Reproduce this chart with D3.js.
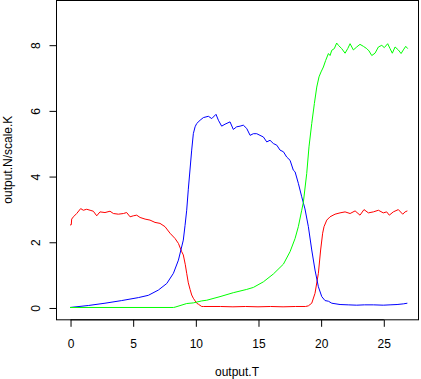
<!DOCTYPE html>
<html>
<head>
<meta charset="utf-8">
<script src="https://cdn.jsdelivr.net/npm/d3@7"></script>
<style>
  body { margin: 0; background: #fff; }
  svg text { font-family: "Liberation Sans", Arial, sans-serif; font-size: 12px; fill: #000; }
</style>
</head>
<body>
<div id="vizContainer"></div>
<script>
// values (time, N/K) for each series
var redT = [0, 0.1, 0.13, 0.27, 0.53, 0.85, 1.06, 1.33, 1.6, 1.86, 2.13, 2.39, 2.79, 3.19, 3.46, 3.86, 4.26, 4.52, 4.79, 5.05, 5.32, 5.59, 5.99, 6.38, 6.78, 7.18, 7.58, 7.98, 8.38, 8.65, 8.91, 9.04, 9.2, 9.31, 9.44, 9.58, 9.71, 9.84, 10.11, 10.24, 10.51, 10.64, 12, 13, 14, 15, 16, 17, 18, 18.8, 19.02, 19.29, 19.55, 19.82, 20.0, 20.16, 20.27, 20.49, 20.75, 21.15, 21.55, 21.95, 22.35, 22.75, 23.14, 23.46, 23.81, 24.21, 24.61, 25.0, 25.27, 25.48, 25.8, 26.2, 26.55, 26.74, 26.92];
var redN = [2.51, 2.52, 2.69, 2.76, 2.86, 3.01, 2.96, 2.99, 2.96, 2.93, 2.79, 2.91, 2.89, 2.93, 2.86, 2.84, 2.86, 2.89, 2.76, 2.79, 2.81, 2.74, 2.69, 2.66, 2.59, 2.56, 2.46, 2.26, 2.10, 1.95, 1.70, 1.60, 1.30, 1.04, 0.75, 0.55, 0.38, 0.28, 0.13, 0.10, 0.03, 0.03, 0.03, 0.02, 0.03, 0.02, 0.03, 0.02, 0.03, 0.03, 0.05, 0.13, 0.43, 1.04, 1.75, 2.26, 2.46, 2.66, 2.76, 2.84, 2.88, 2.91, 2.86, 2.94, 2.81, 2.98, 2.88, 2.91, 2.96, 2.88, 2.91, 2.81, 2.91, 2.98, 2.84, 2.91, 2.94];

var blueT = [0, 1.46, 2.79, 4.12, 5.45, 6.25, 7.05, 7.72, 8.25, 8.65, 9.04, 9.18, 9.31, 9.44, 9.71, 9.84, 9.98, 10.11, 10.38, 10.64, 11.04, 11.31, 11.65, 11.84, 12.1, 12.37, 12.77, 13.03, 13.3, 13.57, 13.83, 14.1, 14.37, 14.63, 14.9, 15.16, 15.43, 15.7, 15.96, 16.23, 16.5, 16.76, 17.03, 17.29, 17.56, 17.82, 17.96, 18.22, 18.49, 18.75, 19.02, 19.29, 19.55, 19.82, 20.09, 20.35, 20.62, 20.89, 21.55, 22.2, 22.88, 23.5, 24.21, 25.0, 25.54, 26.1, 26.6, 26.92];
var blueN = [0, 0.06, 0.13, 0.21, 0.30, 0.37, 0.53, 0.73, 1.04, 1.44, 2.05, 2.5, 2.96, 3.6, 4.79, 5.29, 5.50, 5.60, 5.70, 5.78, 5.82, 5.75, 5.88, 5.70, 5.52, 5.58, 5.65, 5.42, 5.50, 5.52, 5.55, 5.45, 5.24, 5.29, 5.29, 5.24, 5.19, 5.04, 5.09, 4.99, 4.94, 4.79, 4.74, 4.58, 4.48, 4.18, 4.13, 3.78, 3.37, 3.0, 2.46, 1.75, 1.14, 0.63, 0.33, 0.21, 0.19, 0.13, 0.09, 0.08, 0.07, 0.08, 0.08, 0.07, 0.08, 0.09, 0.11, 0.13];

var greenT = [0, 8.25, 8.38, 9.31, 9.84, 10.51, 10.91, 11.97, 13.03, 14.1, 14.63, 15.43, 16.23, 17.03, 17.56, 17.96, 18.22, 18.49, 18.62, 18.89, 19.07, 19.29, 19.5, 19.69, 19.87, 20.03, 20.22, 20.4, 20.62, 20.75, 20.89, 21.09, 21.28, 21.42, 21.68, 21.95, 22.16, 22.35, 22.61, 22.88, 23.14, 23.41, 23.68, 23.86, 24.08, 24.34, 24.61, 24.88, 25.08, 25.35, 25.54, 25.72, 25.94, 26.2, 26.42, 26.6, 26.79, 26.95];
var greenN = [0, 0, 0.01, 0.12, 0.14, 0.2, 0.22, 0.33, 0.45, 0.55, 0.61, 0.78, 1.02, 1.32, 1.70, 2.10, 2.46, 2.96, 3.2, 4.08, 4.89, 5.60, 6.21, 6.71, 7.02, 7.17, 7.32, 7.52, 7.73, 7.67, 7.83, 7.88, 8.05, 7.98, 7.88, 7.74, 7.88, 8.03, 7.84, 7.93, 8.01, 7.95, 7.88, 7.81, 7.67, 7.74, 7.93, 7.98, 7.91, 8.03, 7.88, 7.74, 7.93, 7.84, 7.73, 7.84, 7.95, 7.88];

var xTicks = [0, 5, 10, 15, 20, 25];
var yTicks = [0, 2, 4, 6, 8];

var width = 421, height = 379;
var box = { left: 56, right: 418, top: 0, bottom: 319.3 };

// R style plot region, axes padded a bit past the data
var x = d3.scaleLinear().domain([-1.12, 27.77]).range([box.left, box.right]);
var y = d3.scaleLinear().domain([-0.36, 9.36]).range([box.bottom, box.top]);

function initializeSvg(w, h){
    return d3.select('#vizContainer').append('svg')
        .attr('width', w)
        .attr('height', h)
        .attr('viewBox', '0 0 ' + w + ' ' + h);
}

// draw one series as a plain 1px line
function addSeries(svg, ts, ns, colour){
    var pts = ts.map(function(t, i){ return [t, ns[i]]; });
    var line = d3.line()
        .x(function(d){ return x(d[0]); })
        .y(function(d){ return y(d[1]); });
    svg.append('path')
        .datum(pts)
        .attr('d', line)
        .attr('fill', 'none')
        .attr('stroke', colour)
        .attr('stroke-width', 1);
}

var svg = initializeSvg(width, height);
svg.append('rect').attr('width', width).attr('height', height).attr('fill', '#fff');

addSeries(svg, redT, redN, '#ff0000');
addSeries(svg, blueT, blueN, '#0000ff');
addSeries(svg, greenT, greenN, '#00ff00');

// box round the plot
svg.append('rect')
    .attr('x', box.left + 0.5)
    .attr('y', box.top + 0.5)
    .attr('width', box.right - box.left)
    .attr('height', box.bottom - box.top)
    .attr('fill', 'none')
    .attr('stroke', '#000')
    .attr('stroke-width', 1);

var xAxis = svg.append('g')
    .attr('transform', 'translate(0.5,' + (box.bottom + 0.5) + ')')
    .call(d3.axisBottom(x).tickValues(xTicks).tickSize(7).tickPadding(12.5).tickFormat(d3.format('d')));
xAxis.select('.domain').attr('d', 'M' + x(0) + ',0H' + x(25));
xAxis.selectAll('line, path').attr('stroke', '#000');
xAxis.selectAll('text').style('font-size', '12px').attr('font-family', null);

var yAxis = svg.append('g')
    .attr('transform', 'translate(' + (box.left + 0.5) + ',0.5)')
    .call(d3.axisLeft(y).tickValues(yTicks).tickSize(7).tickFormat(d3.format('d')));
yAxis.select('.domain').attr('d', 'M0,' + y(0) + 'V' + y(8));
yAxis.selectAll('line, path').attr('stroke', '#000');
// R writes y tick labels parallel to the axis
yAxis.selectAll('text')
    .attr('x', null)
    .attr('dy', null)
    .attr('text-anchor', 'middle')
    .attr('transform', 'translate(-16.7,0) rotate(-90)')
    .style('font-size', '12px')
    .attr('font-family', null);

svg.append('text')
    .attr('x', (box.left + box.right) / 2)
    .attr('y', 376)
    .attr('text-anchor', 'middle')
    .text('output.T');

svg.append('text')
    .attr('transform', 'translate(12.3,' + ((box.top + box.bottom) / 2) + ') rotate(-90)')
    .attr('text-anchor', 'middle')
    .text('output.N/scale.K');
</script>
</body>
</html>
